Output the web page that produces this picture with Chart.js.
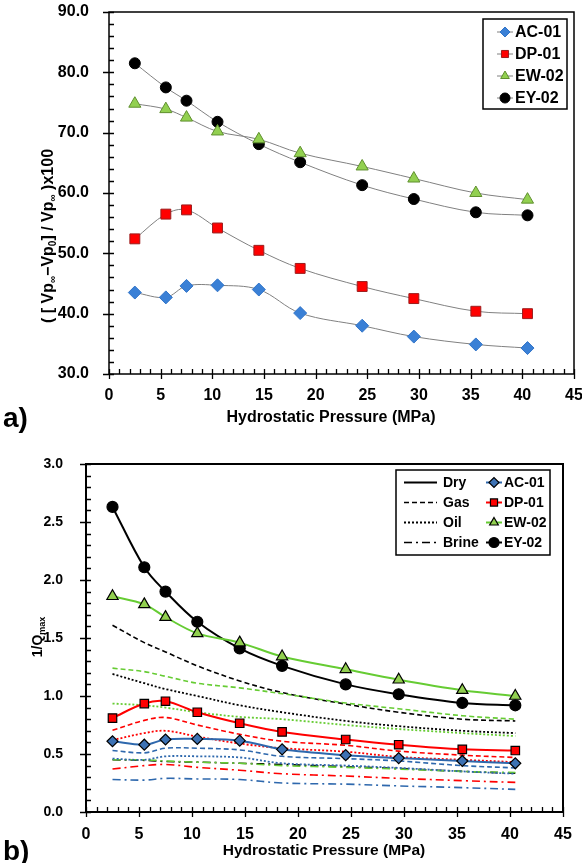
<!DOCTYPE html>
<html>
<head>
<meta charset="utf-8">
<script src="https://cdn.jsdelivr.net/npm/chart.js@4.4.1/dist/chart.umd.min.js"></script>
<style>
  body { margin: 0; background: #fff; width: 582px; height: 863px; position: relative; overflow: hidden;
         font-family: "Liberation Sans", Arial, sans-serif; }
  .wrap { position: absolute; left: 0; width: 582px; }
  #wa { top: 0; height: 432px; }
  #wb { top: 432px; height: 431px; }
  .tag { position: absolute; left: 3px; font-weight: bold; font-size: 28px; line-height: 30px; }
</style>
</head>
<body>
<div class="wrap" id="wa"><canvas id="ca" width="582" height="432" style="width:582px;height:432px"></canvas></div>
<div class="wrap" id="wb"><canvas id="cb" width="582" height="431" style="width:582px;height:431px"></canvas></div>
<div class="tag" style="top:403px">a)</div>
<div class="tag" style="top:836px">b)</div>
<script>
const FONT = "'Liberation Sans', Arial, sans-serif";

// hydrostatic pressure (MPa), same for every sample
const pressure = [2.5, 5.5, 7.5, 10.5, 14.5, 18.5, 24.5, 29.5, 35.5, 40.5];
const samples = ['AC-01', 'DP-01', 'EW-02', 'EY-02'];
const fluids = ['Dry', 'Gas', 'Oil', 'Brine'];

// panel a: ([Vp_inf - Vp0] / Vp_inf) x100
const velAC = [43.5, 42.7, 44.6, 44.7, 44.0, 40.1, 38.0, 36.2, 34.9, 34.3];
const velDP = [52.4, 56.5, 57.2, 54.2, 50.5, 47.5, 44.5, 42.5, 40.4, 40.0];
const velEW = [74.8, 73.9, 72.5, 70.2, 68.9, 66.6, 64.4, 62.4, 60.0, 58.9];
const velEY = [81.5, 77.5, 75.3, 71.8, 68.1, 65.1, 61.3, 59.0, 56.8, 56.3];

// panel b: 1/Qmax
const dryAC   = [0.61, 0.58, 0.625, 0.63, 0.615, 0.54, 0.49, 0.465, 0.44, 0.42];
const gasAC   = [0.53, 0.51, 0.55, 0.55, 0.535, 0.48, 0.46, 0.44, 0.40, 0.38];
const oilAC   = [0.46, 0.45, 0.48, 0.48, 0.47, 0.42, 0.40, 0.38, 0.35, 0.33];
const brineAC = [0.28, 0.275, 0.29, 0.285, 0.28, 0.25, 0.24, 0.225, 0.21, 0.195];
const dryDP   = [0.81, 0.935, 0.955, 0.86, 0.765, 0.69, 0.625, 0.58, 0.54, 0.53];
const gasDP   = [0.705, 0.79, 0.815, 0.75, 0.67, 0.61, 0.575, 0.525, 0.49, 0.47];
const oilDP   = [0.62, 0.68, 0.70, 0.65, 0.59, 0.55, 0.52, 0.475, 0.45, 0.43];
const brineDP = [0.37, 0.40, 0.41, 0.385, 0.36, 0.33, 0.31, 0.29, 0.27, 0.255];
const dryEW   = [1.86, 1.79, 1.68, 1.54, 1.46, 1.34, 1.23, 1.14, 1.05, 1.00];
const gasEW   = [1.24, 1.21, 1.17, 1.11, 1.07, 1.02, 0.94, 0.89, 0.83, 0.80];
const oilEW   = [0.935, 0.92, 0.90, 0.86, 0.82, 0.80, 0.75, 0.715, 0.68, 0.655];
const brineEW = [0.45, 0.45, 0.44, 0.43, 0.42, 0.40, 0.385, 0.37, 0.35, 0.34];
const dryEY   = [2.63, 2.11, 1.90, 1.64, 1.41, 1.26, 1.10, 1.015, 0.94, 0.92];
const gasEY   = [1.61, 1.46, 1.38, 1.26, 1.13, 1.03, 0.93, 0.86, 0.80, 0.785];
const oilEY   = [1.19, 1.11, 1.06, 1.00, 0.92, 0.86, 0.785, 0.74, 0.70, 0.68];
const brineEY = [0.45, 0.445, 0.435, 0.43, 0.42, 0.41, 0.39, 0.375, 0.35, 0.335];

const pts = arr => pressure.map((p, i) => ({ x: p, y: arr[i] }));

// line style per fluid
const dashes = { Dry: [], Gas: [5, 3], Oil: [2, 2], Brine: [8, 4, 2, 4] };
const widths = { Dry: 2, Gas: 1.6, Oil: 1.8, Brine: 1.6 };

// vertical title with subscripts
function drawRich(ctx, t) {
  ctx.save();
  ctx.translate(t.x, t.y);
  ctx.rotate(-Math.PI / 2);
  ctx.textAlign = 'left';
  ctx.textBaseline = 'alphabetic';
  let w = 0;
  t.parts.forEach(p => {
    ctx.font = 'bold ' + (p.sub ? t.sub : t.size) + 'px ' + FONT;
    w += ctx.measureText(p.t).width;
  });
  let x = -w / 2;
  const base = t.size * 0.36;
  t.parts.forEach(p => {
    ctx.font = 'bold ' + (p.sub ? t.sub : t.size) + 'px ' + FONT;
    ctx.fillText(p.t, x, base + (p.sub ? t.size * 0.22 : 0));
    x += ctx.measureText(p.t).width;
  });
  ctx.restore();
}

function drawLegend(chart, ctx, L) {
  ctx.save();
  ctx.fillStyle = '#fff';
  ctx.fillRect(L.x, L.y, L.w, L.h);
  ctx.setLineDash([]);
  ctx.lineWidth = 1.5;
  ctx.strokeStyle = '#000';
  ctx.strokeRect(L.x, L.y, L.w, L.h);
  ctx.font = 'bold ' + L.size + 'px ' + FONT;
  ctx.textAlign = 'left';
  ctx.textBaseline = 'middle';
  L.items.forEach(it => {
    if (it.fluid) {
      ctx.strokeStyle = '#000';
      ctx.lineWidth = widths[it.fluid];
      ctx.setLineDash(dashes[it.fluid]);
      ctx.beginPath();
      ctx.moveTo(it.x0, it.y);
      ctx.lineTo(it.x1, it.y);
      ctx.stroke();
      ctx.setLineDash([]);
    } else {
      const ds = chart.data.datasets[it.ds];
      ctx.strokeStyle = ds.borderColor;
      ctx.lineWidth = ds.borderWidth;
      ctx.beginPath();
      ctx.moveTo(it.x0, it.y);
      ctx.lineTo(it.x1, it.y);
      ctx.stroke();
      ctx.fillStyle = ds.pointBackgroundColor;
      ctx.strokeStyle = ds.pointBorderColor;
      ctx.lineWidth = ds.pointBorderWidth;
      Chart.helpers.drawPoint(ctx, { pointStyle: ds.pointStyle, radius: it.r, borderWidth: ds.pointBorderWidth, rotation: 0 },
        (it.x0 + it.x1) / 2, it.y);
    }
    ctx.fillStyle = '#000';
    ctx.fillText(it.text, it.tx, it.y + 1);
  });
  ctx.restore();
}

// box, inward minor ticks, crossing major ticks, titles and legend
const frame = {
  id: 'frame',
  afterDraw(chart, args, o) {
    const ctx = chart.ctx, a = chart.chartArea;
    const xs = chart.scales.x, ys = chart.scales.y;
    ctx.save();
    ctx.strokeStyle = '#000';
    ctx.lineWidth = 1.3;
    ctx.beginPath();
    const nx = Math.round((xs.max - xs.min) / o.xMinor);
    for (let i = 0; i <= nx; i++) {
      const px = Math.round(xs.getPixelForValue(xs.min + i * o.xMinor)) + 0.5;
      const major = i % o.xEvery === 0;
      ctx.moveTo(px, a.bottom + (major ? 5 : 0));
      ctx.lineTo(px, a.bottom - 5);
    }
    const ny = Math.round((ys.max - ys.min) / o.yMinor);
    for (let i = 0; i <= ny; i++) {
      const py = Math.round(ys.getPixelForValue(ys.min + i * o.yMinor)) + 0.5;
      const major = i % o.yEvery === 0;
      ctx.moveTo(a.left - (major ? 6 : 0), py);
      ctx.lineTo(a.left + 5, py);
    }
    ctx.stroke();
    ctx.lineWidth = o.border;
    ctx.strokeRect(a.left, a.top, a.right - a.left, a.bottom - a.top);

    ctx.fillStyle = '#000';
    ctx.textAlign = 'center';
    ctx.textBaseline = 'middle';
    ctx.font = 'bold ' + o.xTitle.size + 'px ' + FONT;
    ctx.fillText(o.xTitle.text, o.xTitle.x, o.xTitle.y);
    drawRich(ctx, o.yTitle);
    ctx.restore();
    drawLegend(chart, ctx, o.legend);
  }
};

Chart.defaults.font.family = FONT;
Chart.defaults.font.weight = 'bold';
Chart.defaults.color = '#000';

// ---------- panel a ----------
const grayLine = '#808080';
new Chart(document.getElementById('ca'), {
  type: 'line',
  data: {
    datasets: [
      { label: samples[0], data: pts(velAC), borderColor: grayLine, borderWidth: 1, tension: 0.35,
        pointStyle: 'rectRot', pointRadius: 6.5, pointBackgroundColor: '#3a80d6', pointBorderColor: '#3174c8', pointBorderWidth: 1 },
      { label: samples[1], data: pts(velDP), borderColor: grayLine, borderWidth: 1, tension: 0.35,
        pointStyle: 'rect', pointRadius: 7, pointBackgroundColor: '#ff0000', pointBorderColor: '#9b1c1c', pointBorderWidth: 1 },
      { label: samples[2], data: pts(velEW), borderColor: grayLine, borderWidth: 1, tension: 0.35,
        pointStyle: 'triangle', pointRadius: 7, pointBackgroundColor: '#92d050', pointBorderColor: '#5f8f2e', pointBorderWidth: 1 },
      { label: samples[3], data: pts(velEY), borderColor: grayLine, borderWidth: 1, tension: 0.35,
        pointStyle: 'circle', pointRadius: 5.5, pointBackgroundColor: '#000', pointBorderColor: '#000', pointBorderWidth: 1 }
    ]
  },
  options: {
    responsive: false,
    animation: false,
    layout: { padding: { left: 0, top: 12, right: 5, bottom: 0 } },
    plugins: {
      legend: { display: false },
      tooltip: { enabled: false },
      frame: {
        border: 1.5, xMinor: 1, xEvery: 5, yMinor: 2, yEvery: 5,
        xTitle: { text: 'Hydrostatic Pressure (MPa)', x: 331, y: 418, size: 16 },
        yTitle: { x: 47, y: 236, size: 16, sub: 10, parts: [
          { t: '( [ Vp' }, { t: '\u221E', sub: true }, { t: '\u2212Vp' }, { t: '0', sub: true },
          { t: '] / Vp' }, { t: '\u221E', sub: true }, { t: ' )x100' } ] },
        legend: { x: 483, y: 19, w: 84, h: 90, size: 16, items: samples.map((s, i) => (
          { ds: i, text: s, x0: 497, x1: 513, tx: 515, y: 32 + i * 22, r: 5 })) }
      }
    },
    scales: {
      x: {
        type: 'linear', min: 0, max: 45,
        ticks: { stepSize: 5, padding: 4, font: { size: 16, weight: 'bold' } },
        grid: { display: false }, border: { display: false },
        afterFit(s) { s.height = 58; s.paddingLeft = 0; s.paddingRight = 0; }
      },
      y: {
        min: 30, max: 90,
        ticks: { stepSize: 10, padding: 12, font: { size: 16, weight: 'bold' }, callback: v => v.toFixed(1) },
        grid: { display: false }, border: { display: false },
        afterFit(s) { s.width = 109; s.paddingTop = 0; s.paddingBottom = 0; }
      }
    }
  },
  plugins: [frame]
});

// ---------- panel b ----------
const colors = { AC: '#2e68ad', DP: '#ff0000', EW: '#66cc33', EY: '#000000' };
const markers = {
  AC: { pointStyle: 'rectRot', pointRadius: 5.5, pointBackgroundColor: '#3d72b4' },
  DP: { pointStyle: 'rect', pointRadius: 6, pointBackgroundColor: '#ff0000' },
  EW: { pointStyle: 'triangle', pointRadius: 6.5, pointBackgroundColor: '#92d050' },
  EY: { pointStyle: 'circle', pointRadius: 5.5, pointBackgroundColor: '#000000' }
};
const series = {
  AC: { Dry: dryAC, Gas: gasAC, Oil: oilAC, Brine: brineAC },
  DP: { Dry: dryDP, Gas: gasDP, Oil: oilDP, Brine: brineDP },
  EW: { Dry: dryEW, Gas: gasEW, Oil: oilEW, Brine: brineEW },
  EY: { Dry: dryEY, Gas: gasEY, Oil: oilEY, Brine: brineEY }
};
const keys = ['AC', 'DP', 'EW', 'EY'];

const dsB = [];
fluids.forEach(f => {
  keys.forEach((k, i) => {
    const d = {
      label: samples[i] + ' ' + f,
      data: pts(series[k][f]),
      borderColor: colors[k],
      borderWidth: widths[f],
      borderDash: dashes[f],
      tension: 0.35,
      pointRadius: 0
    };
    if (f === 'Dry') Object.assign(d, markers[k], { pointBorderColor: '#000', pointBorderWidth: 1.2 });
    dsB.push(d);
  });
});

new Chart(document.getElementById('cb'), {
  type: 'line',
  data: { datasets: dsB },
  options: {
    responsive: false,
    animation: false,
    layout: { padding: { left: 0, top: 32, right: 19, bottom: 0 } },
    plugins: {
      legend: { display: false },
      tooltip: { enabled: false },
      frame: {
        border: 2, xMinor: 1, xEvery: 5, yMinor: 0.1, yEvery: 5,
        xTitle: { text: 'Hydrostatic Pressure (MPa)', x: 324, y: 419, size: 15.5 },
        yTitle: { x: 37, y: 205, size: 14, sub: 9, parts: [ { t: '1/Q' }, { t: 'max', sub: true } ] },
        legend: { x: 396, y: 38, w: 154, h: 85, size: 14, items: [
          ...fluids.map((f, i) => ({ fluid: f, text: f, x0: 404, x1: 437, tx: 443, y: 50.5 + i * 20 })),
          ...samples.map((s, i) => ({ ds: i, text: s, x0: 486, x1: 502, tx: 504, y: 50.5 + i * 20, r: 5 }))
        ] }
      }
    },
    scales: {
      x: {
        type: 'linear', min: 0, max: 45,
        ticks: { stepSize: 5, padding: 5, font: { size: 16, weight: 'bold' } },
        grid: { display: false }, border: { display: false },
        afterFit(s) { s.height = 51; s.paddingLeft = 0; s.paddingRight = 0; }
      },
      y: {
        min: 0, max: 3,
        ticks: { stepSize: 0.5, padding: 15, font: { size: 14, weight: 'bold' }, callback: v => v.toFixed(1) },
        grid: { display: false }, border: { display: false },
        afterFit(s) { s.width = 86; s.paddingTop = 0; s.paddingBottom = 0; }
      }
    }
  },
  plugins: [frame]
});
</script>
</body>
</html>
